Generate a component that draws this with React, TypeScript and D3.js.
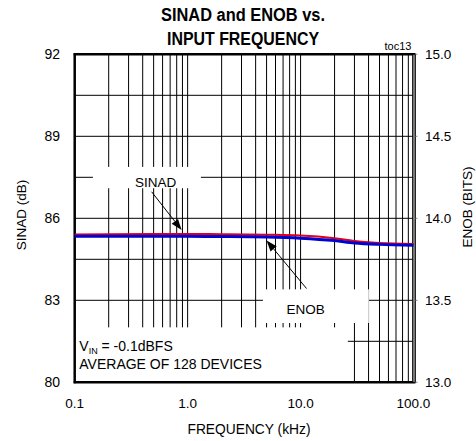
import React from "react";
import * as d3 from "d3";

const W = 476;
const H = 441;

// Data
const frequencies = [0.1, 0.2, 0.5, 1, 2, 5, 10, 20, 30, 50, 100];
const sinadValues = [85.41, 85.42, 85.43, 85.43, 85.42, 85.4, 85.37, 85.27, 85.17, 85.1, 85.06];
const enobValues = [13.89, 13.89, 13.891, 13.89, 13.889, 13.886, 13.879, 13.864, 13.85, 13.841, 13.835];

const xTickValues = [0.1, 1, 10, 100];
const xTickLabels = ["0.1", "1.0", "10.0", "100.0"];
const sinadTicks = [80, 83, 86, 89, 92];
const enobTicks = [13, 13.5, 14, 14.5, 15];
const enobTickLabels = ["13.0", "13.5", "14.0", "14.5", "15.0"];
const sinadGrid = [80, 81.5, 83, 84.5, 86, 87.5, 89, 90.5, 92];

const FONT = "'Liberation Sans', Arial, Helvetica, sans-serif";

export default function App() {
  const left = 74.7;
  const right = 413.5;
  const top = 54.3;
  const bottom = 382.3;

  const x = d3.scaleLog().domain([0.1, 100]).range([left, right]);
  const yS = d3.scaleLinear().domain([80, 92]).range([bottom, top]);
  const yE = d3.scaleLinear().domain([13, 15]).range([bottom, top]);

  const vGrid: number[] = [];
  [0.1, 1, 10].forEach((dec) => {
    for (let k = 1; k <= 9; k++) vGrid.push(dec * k);
  });
  vGrid.push(100);

  const sinadLine = d3
    .line<number>()
    .x((_, i) => x(frequencies[i]))
    .y((d) => yS(d))
    .curve(d3.curveMonotoneX);
  const enobLine = d3
    .line<number>()
    .x((_, i) => x(frequencies[i]))
    .y((d) => yE(d))
    .curve(d3.curveMonotoneX);

  // white label boxes (data coords: freq, dB)
  const boxes = [
    { f0: 0.145, f1: 1.31, s0: 87.88, s1: 87.1 },
    { f0: 4.64, f1: 40.2, s0: 83.4, s1: 82.17 },
    { f0: 0.1, f1: 26.2, s0: 82.01, s1: 80 },
  ];

  const arrow = (fx0: number, s0: number, fx1: number, s1: number) => {
    const x0 = x(fx0), y0 = yS(s0), x1 = x(fx1), y1 = yS(s1);
    const ang = Math.atan2(y1 - y0, x1 - x0);
    const L = 11, Wd = 4;
    const bx = x1 - L * Math.cos(ang), by = y1 - L * Math.sin(ang);
    const px = -Math.sin(ang) * Wd, py = Math.cos(ang) * Wd;
    return (
      <g>
        <line x1={x0} y1={y0} x2={bx} y2={by} stroke="#000" strokeWidth={1} />
        <polygon points={`${x1},${y1} ${bx + px},${by + py} ${bx - px},${by - py}`} fill="#000" />
      </g>
    );
  };

  return (
    <svg
      width={W}
      height={H}
      style={{ position: "absolute", left: 0, top: 0, background: "#fff" }}
      fontFamily={FONT}
    >
      <rect x={0} y={0} width={W} height={H} fill="#fff" />
      {/* Title */}
      <text x={243} y={21} textAnchor="middle" fontSize={18} fontWeight="bold" textLength={164} lengthAdjust="spacingAndGlyphs">
        SINAD and ENOB vs.
      </text>
      <text x={243} y={44.5} textAnchor="middle" fontSize={18} fontWeight="bold" textLength={152} lengthAdjust="spacingAndGlyphs">
        INPUT FREQUENCY
      </text>
      <text x={398} y={50} textAnchor="middle" fontSize={11}>toc13</text>

      {/* grid */}
      {vGrid.map((f, i) => (
        <line key={"v" + i} x1={x(f)} x2={x(f)} y1={top} y2={bottom} stroke="#000" strokeWidth={1} />
      ))}
      {sinadGrid.map((s, i) => (
        <line key={"h" + i} x1={left} x2={right} y1={yS(s)} y2={yS(s)} stroke="#000" strokeWidth={1} />
      ))}

      {/* white boxes */}
      {boxes.map((b, i) => (
        <rect key={"b" + i} x={x(b.f0)} y={yS(b.s0)} width={x(b.f1) - x(b.f0)} height={yS(b.s1) - yS(b.s0)} fill="#fff" />
      ))}

      {/* frame */}
      <line x1={left} x2={left} y1={top - 1} y2={bottom + 1} stroke="#000" strokeWidth={2.5} />
      <line x1={left - 1} x2={right + 2} y1={top} y2={top} stroke="#000" strokeWidth={2.5} />
      <line x1={left - 1} x2={right + 2} y1={bottom} y2={bottom} stroke="#000" strokeWidth={2.5} />
      <rect x={right - 1} y={top} width={3} height={bottom - top} fill="#777" stroke="#000" strokeWidth={0.8} />
      {enobTicks.map((e, i) => (
        <line key={"rt" + i} x1={right + 2} x2={right + 4} y1={yE(e)} y2={yE(e)} stroke="#888" strokeWidth={1} />
      ))}

      {/* data lines */}
      <path d={sinadLine(sinadValues) || ""} fill="none" stroke="#e0001b" strokeWidth={2} />
      <path d={enobLine(enobValues) || ""} fill="none" stroke="#0000d0" strokeWidth={3} />

      {/* annotations */}
      <text x={x(0.52)} y={yS(87.14)} textAnchor="middle" fontSize={13.5}>SINAD</text>
      {arrow(0.48, 86.97, 0.885, 85.57)}
      <text x={x(11.1)} y={yS(82.5)} textAnchor="middle" fontSize={13.5}>ENOB</text>
      {arrow(11.3, 83.43, 5.0, 85.19)}

      <text x={79.3} y={yS(81.15)} fontSize={14}>
        V<tspan fontSize={9} dy={3}>IN</tspan>
        <tspan dy={-3}> = -0.1dBFS</tspan>
      </text>
      <text x={79.3} y={yS(80.47)} fontSize={14}>AVERAGE OF 128 DEVICES</text>

      {/* left axis labels */}
      {sinadTicks.map((s, i) => (
        <text key={"ls" + i} x={60} y={yS(s) + 5} textAnchor="end" fontSize={14}>{s}</text>
      ))}
      {/* right axis labels */}
      {enobTicks.map((e, i) => (
        <text key={"re" + i} x={425} y={yE(e) + 5} textAnchor="start" fontSize={13.5}>{enobTickLabels[i]}</text>
      ))}
      {/* x labels */}
      {xTickValues.map((f, i) => (
        <text key={"xl" + i} x={x(f)} y={408} textAnchor="middle" fontSize={13.5}>{xTickLabels[i]}</text>
      ))}

      <text x={249} y={434} textAnchor="middle" fontSize={14.5} textLength={123} lengthAdjust="spacingAndGlyphs">FREQUENCY (kHz)</text>
      <text transform="translate(25.5,215) rotate(-90)" textAnchor="middle" fontSize={13.5}>SINAD (dB)</text>
      <text transform="translate(472,207) rotate(-90)" textAnchor="middle" fontSize={13.5}>ENOB (BITS)</text>
    </svg>
  );
}
